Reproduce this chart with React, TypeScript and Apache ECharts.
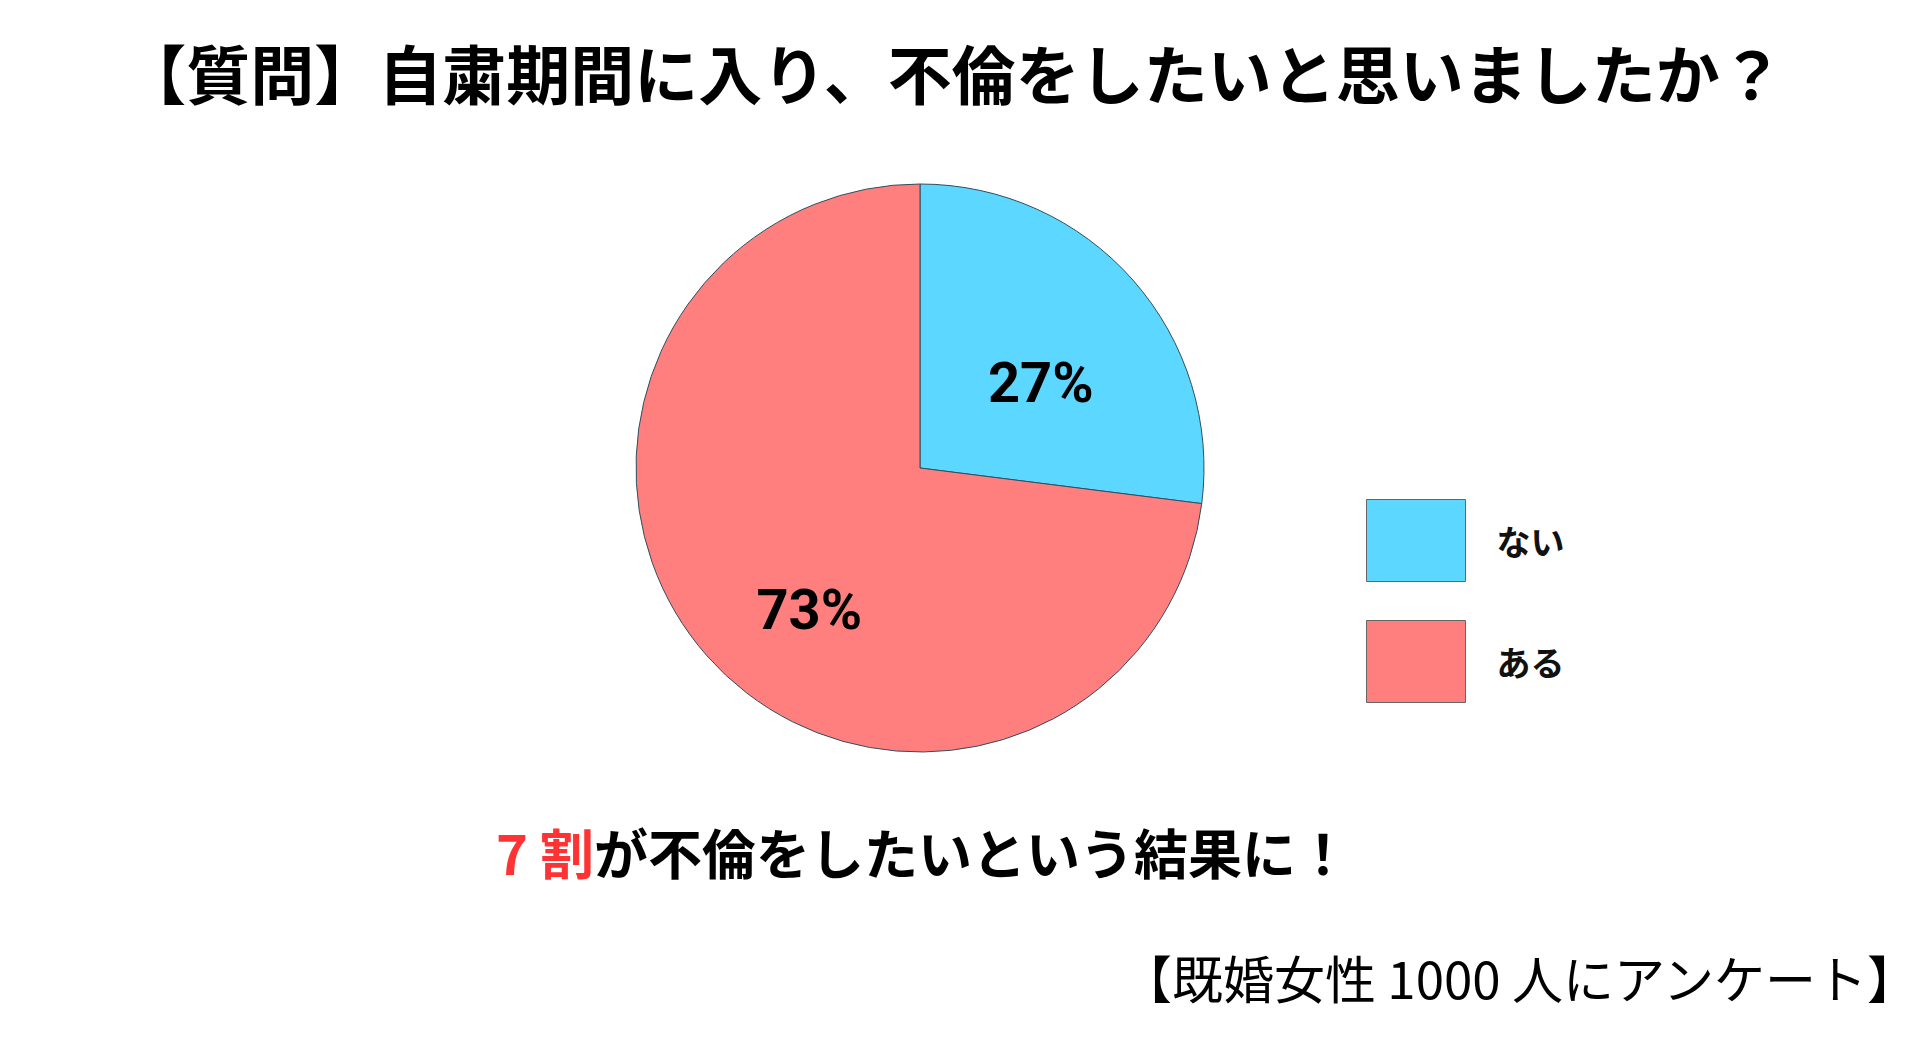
import React, { useEffect, useRef } from "react";
import * as echarts from "echarts";

const categories = ["ない", "ある"];
const values = [27, 73];
const colors = ["#5CD7FF", "#FF7F7F"];
const titleText = "【質問】自粛期間に入り、不倫をしたいと思いましたか？";
const highlightText = "7 割";
const conclusionText = "が不倫をしたいという結果に！";
const footerText = "【既婚女性 1000 人にアンケート】";

const JP = "'Noto Sans CJK JP', 'Noto Sans', sans-serif";

export default function App() {
  const ref = useRef<HTMLDivElement>(null);
  useEffect(() => {
    if (!ref.current) return;
    const chart = echarts.init(ref.current, null, { renderer: "svg" });
    const labelShift = [
      [12, 11],
      [-2, 46],
    ];
    chart.setOption({
      animation: false,
      backgroundColor: "#ffffff",
      title: {
        text: titleText,
        left: 948,
        textAlign: "center",
        top: 34,
        textStyle: { fontFamily: JP, fontSize: 64, fontWeight: "bold", color: "#000" },
      },
      legend: {
        orient: "vertical",
        left: 1361,
        top: 494,
        itemWidth: 99,
        itemHeight: 82,
        itemGap: 38,
        icon: "rect",
        data: categories,
        textStyle: {
          fontFamily: JP,
          fontSize: 34,
          fontWeight: "bold",
          color: "#111",
          padding: [0, 0, 0, 26],
        },
        itemStyle: { borderColor: "#666", borderWidth: 1 },
      },
      graphic: [
        {
          type: "text",
          left: 496,
          top: 824,
          style: {
            text: `{r|${highlightText}}{b|${conclusionText}}`,
            rich: {
              r: { fontFamily: JP, fontSize: 54, fontWeight: "bold", fill: "#FF3333", color: "#FF3333" },
              b: { fontFamily: JP, fontSize: 54, fontWeight: "bold", fill: "#000", color: "#000" },
            },
          },
        },
        {
          type: "text",
          right: 0,
          top: 951,
          style: {
            text: footerText,
            font: `normal 51px ${JP}`,
            fill: "#000",
          },
        },
      ],
      series: [
        {
          type: "pie",
          center: [920, 468],
          radius: 284,
          startAngle: 90,
          clockwise: true,
          silent: true,
          data: categories.map((c, i) => ({
            name: c,
            value: values[i],
            itemStyle: { color: colors[i] },
          })),
          itemStyle: { borderColor: "#2F4F5F", borderWidth: 1 },
          label: {
            show: true,
            position: "inside",
            formatter: "{d}%",
            fontFamily: "Roboto, 'Noto Sans', sans-serif",
            fontSize: 56,
            fontWeight: "bold",
            color: "#000",
          },
          labelLayout: (params: any) => ({
            dx: labelShift[params.dataIndex][0],
            dy: labelShift[params.dataIndex][1],
          }),
          labelLine: { show: false },
          emphasis: { disabled: true },
        },
      ],
    });
    return () => chart.dispose();
  }, []);
  return (
    <div
      ref={ref}
      style={{ position: "fixed", left: 0, top: 0, width: 1920, height: 1045 }}
    />
  );
}
